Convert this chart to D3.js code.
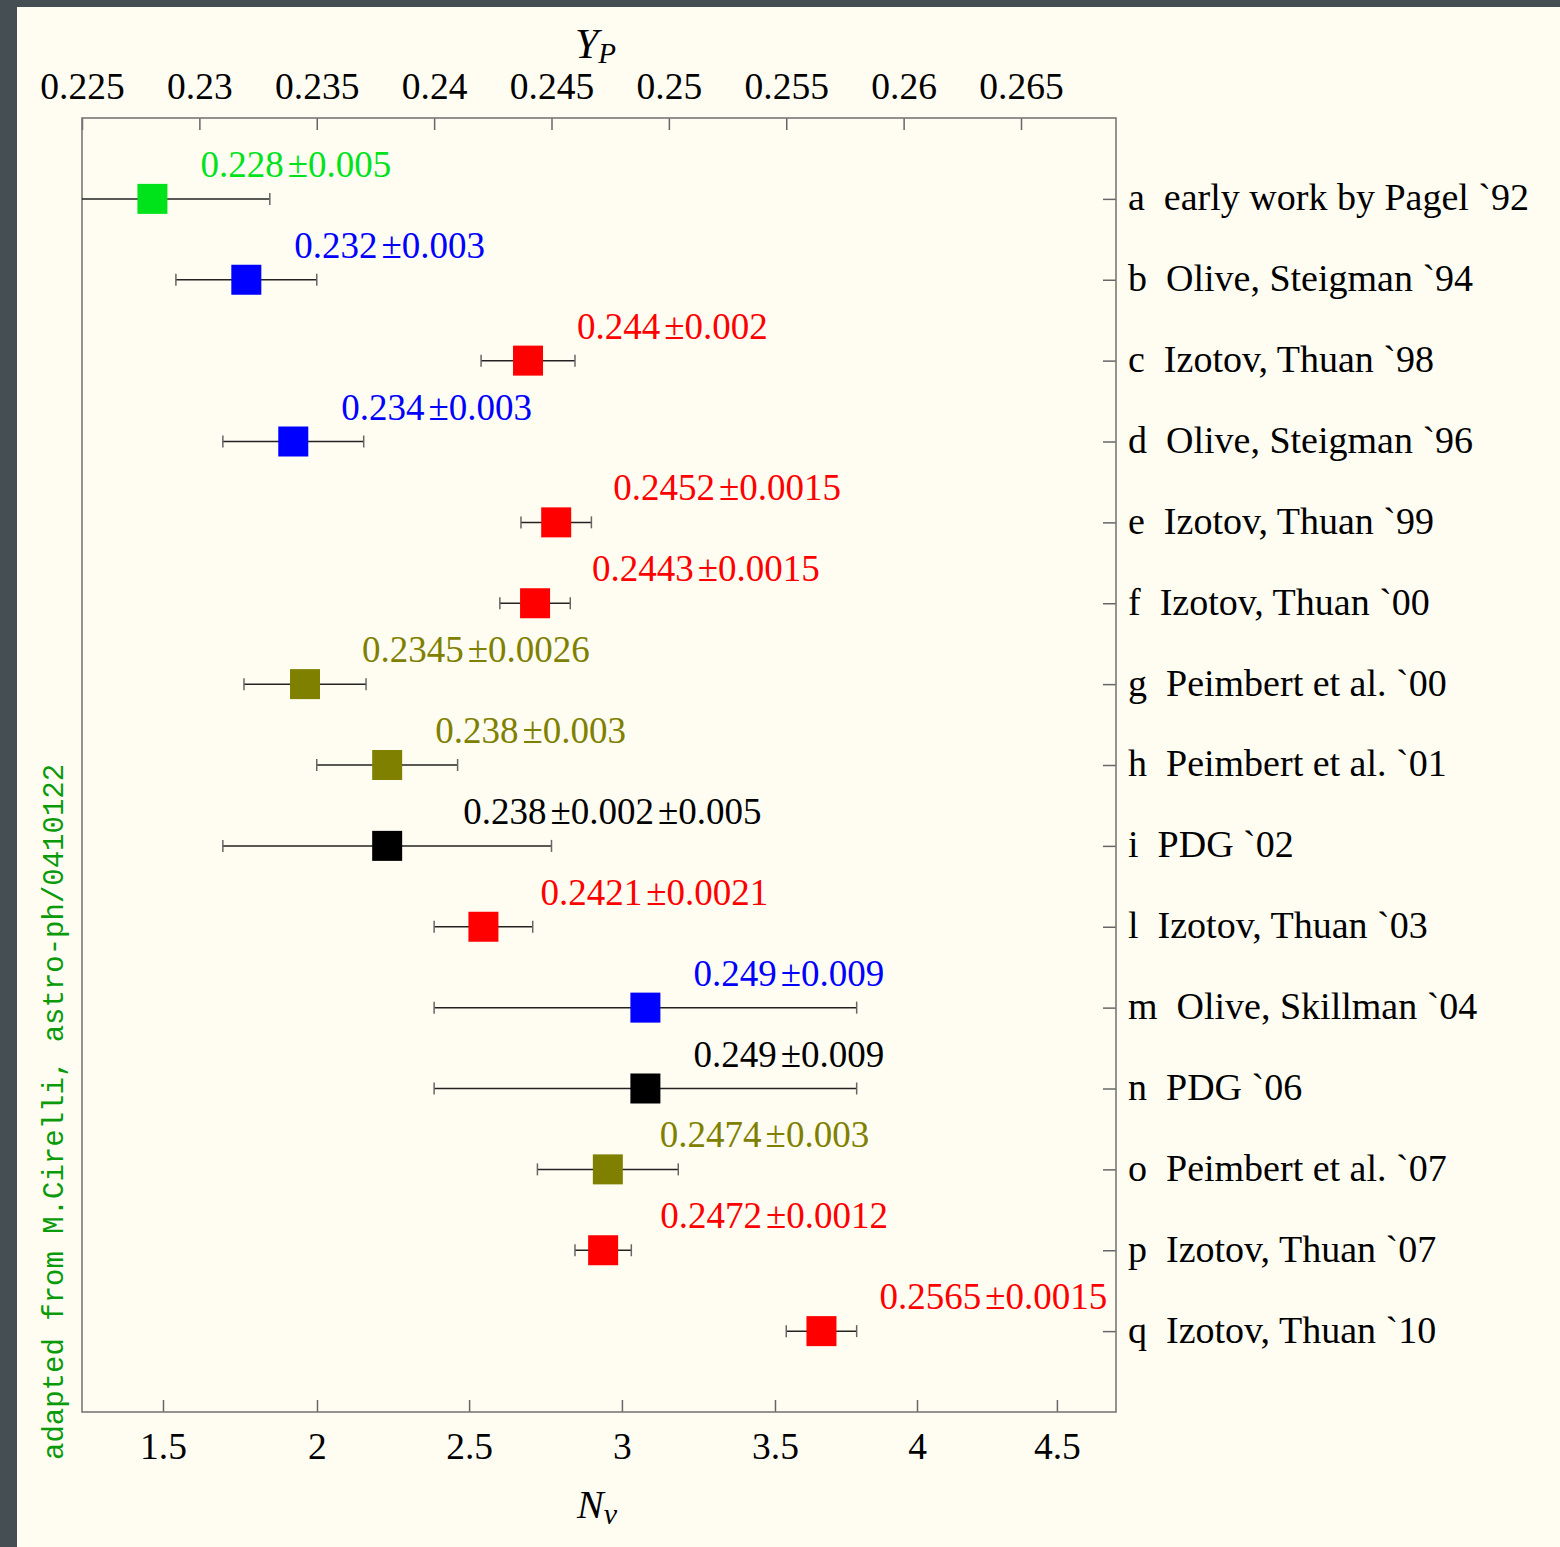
<!DOCTYPE html>
<html><head><meta charset="utf-8">
<script src="https://cdn.jsdelivr.net/npm/d3@7"></script>
<style>
html,body{margin:0;padding:0;background:#454e53;}
svg{display:block;}
</style></head>
<body>
<script>
// ---- data ----
const rowLetters = ["a","b","c","d","e","f","g","h","i","l","m","n","o","p","q"];
const rowNames = ["early work by Pagel `92","Olive, Steigman `94","Izotov, Thuan `98","Olive, Steigman `96",
  "Izotov, Thuan `99","Izotov, Thuan `00","Peimbert et al. `00","Peimbert et al. `01","PDG `02",
  "Izotov, Thuan `03","Olive, Skillman `04","PDG `06","Peimbert et al. `07","Izotov, Thuan `07","Izotov, Thuan `10"];
const ypValues = [0.228,0.232,0.244,0.234,0.2452,0.2443,0.2345,0.238,0.238,0.2421,0.249,0.249,0.2474,0.2472,0.2565];
const ypErrors = [0.005,0.003,0.002,0.003,0.0015,0.0015,0.0026,0.003,0.007,0.0021,0.009,0.009,0.003,0.0012,0.0015];
const valueLabels = ["0.228±0.005","0.232±0.003","0.244±0.002","0.234±0.003","0.2452±0.0015",
  "0.2443±0.0015","0.2345±0.0026","0.238±0.003","0.238±0.002±0.005","0.2421±0.0021",
  "0.249±0.009","0.249±0.009","0.2474±0.003","0.2472±0.0012","0.2565±0.0015"];
const seriesColors = ["#00e31b","#0000ff","#ff0000","#0000ff","#ff0000","#ff0000","#808000","#808000","#000000",
  "#ff0000","#0000ff","#000000","#808000","#ff0000","#ff0000"];
const ypTicks = [0.225,0.23,0.235,0.24,0.245,0.25,0.255,0.26,0.265];
const ypTickLabels = ["0.225","0.23","0.235","0.24","0.245","0.25","0.255","0.26","0.265"];
const nuTicks = [1.5,2,2.5,3,3.5,4,4.5];
const nuTicksAtYp = [0.22845,0.23501,0.24149,0.24800,0.25452,0.26057,0.26653];

// ---- layout ----
const W = 1560, H = 1547;
const L = 82, R = 1116, T = 118, B = 1412;
const labelShift = [48,48,49,48,57,57,57,48,76,57,48,48,52,57,58]; // px offset of value labels from marker
const serif = "'Liberation Serif','Times New Roman',serif";

const svg = d3.select("body").append("svg").attr("width", W).attr("height", H);
svg.append("rect").attr("x",17).attr("y",7).attr("width",W-17).attr("height",H-7).attr("fill","#fffdf2");

const x = d3.scaleLinear().domain([0.225, 0.265]).range([L, 1021]);
const xMax = x.invert(R);
x.domain([0.225, xMax]).range([L, R]);
const y = d3.scalePoint().domain(rowLetters).range([T, B]).padding(1.0);

svg.append("clipPath").attr("id","plotclip").append("rect")
  .attr("x",L).attr("y",T).attr("width",R-L).attr("height",B-T);

const gTop = svg.append("g").attr("transform",`translate(0,${T})`)
  .call(d3.axisTop(x).tickValues(ypTicks).tickFormat((d,i)=>ypTickLabels[i]).tickSizeInner(-12).tickSizeOuter(0).tickPadding(19));
const gBot = svg.append("g").attr("transform",`translate(0,${B})`)
  .call(d3.axisBottom(x).tickValues(nuTicksAtYp).tickFormat((d,i)=>String(nuTicks[i])).tickSizeInner(-12).tickSizeOuter(0).tickPadding(20));
const gRight = svg.append("g").attr("transform",`translate(${R},0)`)
  .call(d3.axisRight(y).tickFormat("").tickSizeInner(-13).tickSizeOuter(0));

[gTop,gBot,gRight].forEach(g=>{
  g.select(".domain").remove();
  g.selectAll(".tick line").attr("stroke","#666").attr("stroke-width",1.5);
  g.selectAll(".tick text").attr("font-family",serif).attr("font-size",37.5).attr("fill","#000");
});

svg.append("rect").attr("x",L).attr("y",T).attr("width",R-L).attr("height",B-T)
  .attr("fill","none").attr("stroke","#777").attr("stroke-width",1.6);

const plot = svg.append("g").attr("clip-path","url(#plotclip)");
const rows = rowLetters.map((k,i)=>({k,i,v:ypValues[i],e:ypErrors[i]}));
plot.selectAll("line.err").data(rows).join("line").attr("class","err")
  .attr("x1",d=>x(d.v-d.e)).attr("x2",d=>x(d.v+d.e))
  .attr("y1",d=>y(d.k)).attr("y2",d=>y(d.k))
  .attr("stroke","#222").attr("stroke-width",1.5);
const caps = [];
rows.forEach(d=>{ caps.push({k:d.k,v:d.v-d.e}); caps.push({k:d.k,v:d.v+d.e}); });
plot.selectAll("line.cap").data(caps).join("line").attr("class","cap")
  .attr("x1",d=>x(d.v)).attr("x2",d=>x(d.v))
  .attr("y1",d=>y(d.k)-6).attr("y2",d=>y(d.k)+6)
  .attr("stroke","#666").attr("stroke-width",1.5);

const S = 30;
plot.selectAll("rect.pt").data(rows).join("rect").attr("class","pt")
  .attr("x",d=>x(d.v)-S/2).attr("y",d=>y(d.k)-S/2)
  .attr("width",S).attr("height",S).attr("fill",d=>seriesColors[d.i]);

// value labels
const vt = svg.selectAll("text.val").data(rows).join("text").attr("class","val")
  .attr("x",d=>x(d.v)+labelShift[d.i]).attr("y",d=>y(d.k)-22)
  .attr("font-family",serif).attr("font-size",37)
  .attr("fill",d=>seriesColors[d.i]);
vt.each(function(d){
  const parts = valueLabels[d.i].split("±");
  const t = d3.select(this);
  parts.forEach((p,j)=>{
    t.append("tspan").attr("dx", j===0?0:4).text(j===0?p:"±"+p);
  });
});

// row names
svg.selectAll("text.row").data(rows).join("text").attr("class","row")
  .attr("x",R+12).attr("y",d=>y(d.k)).attr("dy","0.3em")
  .attr("font-family",serif).attr("font-size",38).attr("fill","#000")
  .style("white-space","pre").text(d=>d.k+"  "+rowNames[d.i]);

// axis titles
const tTop = svg.append("text").attr("x",575).attr("y",58)
  .attr("font-family",serif).attr("font-size",42).attr("font-style","italic");
tTop.append("tspan").text("Y");
tTop.append("tspan").attr("font-size",29).attr("dy",5).text("P");
const tBot = svg.append("text").attr("x",577).attr("y",1518)
  .attr("font-family",serif).attr("font-size",40).attr("font-style","italic");
tBot.append("tspan").text("N");
tBot.append("tspan").attr("font-size",30).attr("dy",6).text("ν");

// credit
svg.append("text").attr("transform","translate(63,1460) rotate(-90)")
  .attr("font-family","'Liberation Mono','DejaVu Sans Mono',monospace").attr("font-size",29)
  .attr("fill","#0a9a0a").text("adapted from M.Cirelli, astro-ph/0410122");
</script>
</body></html>
